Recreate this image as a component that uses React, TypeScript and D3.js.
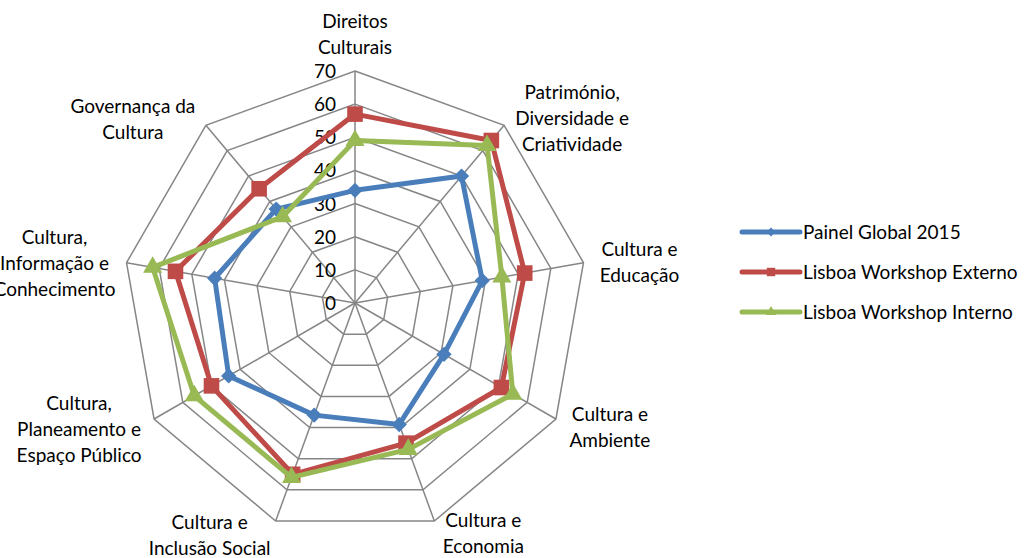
import { useEffect, useRef } from 'react';
import * as d3 from 'd3';

const categories = [
    'Direitos Culturais',
    'Património, Diversidade e Criatividade',
    'Cultura e Educação',
    'Cultura e Ambiente',
    'Cultura e Economia',
    'Cultura e Inclusão Social',
    'Cultura, Planeamento e Espaço Público',
    'Cultura, Informação e Conhecimento',
    'Governança da Cultura',
];
// label lines as drawn in the chart
const labelLines = [
    ['Direitos', 'Culturais'],
    ['Património,', 'Diversidade e', 'Criatividade'],
    ['Cultura e', 'Educação'],
    ['Cultura e', 'Ambiente'],
    ['Cultura e', 'Economia'],
    ['Cultura e', 'Inclusão Social'],
    ['Cultura,', 'Planeamento e', 'Espaço Público'],
    ['Cultura,', 'Informação e', 'Conhecimento'],
    ['Governança da', 'Cultura'],
];
const seriesNames = ['Painel Global 2015', 'Lisboa Workshop Externo', 'Lisboa Workshop Interno'];
const painelGlobal = [34, 50, 39, 31, 39, 36, 44, 43, 37];
const workshopExterno = [57, 64, 52, 51, 45, 55, 50, 55, 45];
const workshopInterno = [49, 62, 45, 55, 47, 56, 56, 62, 34];
const ticks = [0, 10, 20, 30, 40, 50, 60, 70];

const colors = ['#4a7ebb', '#be4b48', '#98b954'];
const markers = ['diamond', 'square', 'triangle'];
// label block offsets from the outer vertex (layout only)
const labelOffsets = [
    [0, -37], [68, -7], [56, -1], [54, 8], [49, 12], [-66, 14], [-75, 10], [-72, 0], [-73, -6],
];

const App = () => {
    const svgRef = useRef(null);
    const width = 1026;
    const height = 558;
    const cx = 355;
    const cy = 303;
    const font = 'Lato, "Open Sans", sans-serif';
    const fs = 19;

    useEffect(() => {
        const svg = d3.select(svgRef.current);
        svg.selectAll('*').remove();

        const r = d3.scaleLinear().domain([0, 70]).range([0, 232]);
        const angle = d3.scaleLinear().domain([0, categories.length]).range([0, 2 * Math.PI]);
        const pt = (i, v) => [cx + r(v) * Math.sin(angle(i)), cy - r(v) * Math.cos(angle(i))];

        const g = svg.append('g');

        // grid rings
        ticks.slice(1).forEach(t => {
            g.append('polygon')
                .attr('points', categories.map((c, i) => pt(i, t).join(',')).join(' '))
                .attr('fill', 'none')
                .attr('stroke', '#868686')
                .attr('stroke-width', 1.5);
        });
        // spokes
        categories.forEach((c, i) => {
            const [x, y] = pt(i, 70);
            g.append('line')
                .attr('x1', cx).attr('y1', cy).attr('x2', x).attr('y2', y)
                .attr('stroke', '#868686')
                .attr('stroke-width', 1.5);
        });

        // tick labels
        g.selectAll('.tick')
            .data(ticks)
            .join('text')
            .attr('x', cx - 19)
            .attr('y', d => cy - r(d) + 7)
            .attr('text-anchor', 'end')
            .attr('font-family', font)
            .attr('font-size', fs)
            .attr('fill', '#000')
            .text(d => d);

        // category labels
        labelLines.forEach((lines, i) => {
            const [vx, vy] = pt(i, 70);
            const [ox, oy] = labelOffsets[i];
            const lh = 26;
            const top = vy + oy - (lines.length - 1) * lh / 2;
            const t = g.append('text')
                .attr('text-anchor', 'middle')
                .attr('font-family', font)
                .attr('font-size', fs)
                .attr('fill', '#000');
            lines.forEach((l, j) => {
                t.append('tspan')
                    .attr('x', vx + ox)
                    .attr('y', top + j * lh + 7)
                    .text(l);
            });
        });

        const radial = d3.lineRadial()
            .angle((d, i) => angle(i))
            .radius(d => r(d))
            .curve(d3.curveLinearClosed);

        const symbolFor = m => m === 'diamond'
            ? d3.symbol().type(d3.symbolDiamond2).size(150)
            : m === 'square'
                ? d3.symbol().type(d3.symbolSquare2).size(310)
                : d3.symbol().type(d3.symbolTriangle2).size(260);

        const allSeries = [painelGlobal, workshopExterno, workshopInterno];
        allSeries.forEach((vals, s) => {
            const sg = g.append('g').attr('transform', `translate(${cx},${cy})`);
            sg.append('path')
                .attr('d', radial(vals))
                .attr('fill', 'none')
                .attr('stroke', colors[s])
                .attr('stroke-width', 5)
                .attr('stroke-linejoin', 'round');
            sg.selectAll('path.m')
                .data(vals)
                .join('path')
                .attr('class', 'm')
                .attr('d', symbolFor(markers[s])())
                .attr('transform', (d, i) => {
                    const [x, y] = pt(i, d);
                    return `translate(${x - cx},${y - cy})`;
                })
                .attr('fill', colors[s]);
        });

        // legend
        const lg = svg.append('g');
        seriesNames.forEach((name, s) => {
            const y = 232 + s * 40;
            lg.append('line')
                .attr('x1', 742).attr('x2', 800).attr('y1', y).attr('y2', y)
                .attr('stroke', colors[s])
                .attr('stroke-width', 5)
                .attr('stroke-linecap', 'round');
            const sym = markers[s] === 'diamond'
                ? d3.symbol().type(d3.symbolDiamond2).size(50)
                : markers[s] === 'square'
                    ? d3.symbol().type(d3.symbolSquare2).size(90)
                    : d3.symbol().type(d3.symbolTriangle2).size(80);
            lg.append('path')
                .attr('d', sym())
                .attr('transform', `translate(771,${y})`)
                .attr('fill', colors[s]);
            lg.append('text')
                .attr('x', 803)
                .attr('y', y + 7)
                .attr('font-family', font)
                .attr('font-size', fs)
                .attr('fill', '#000')
                .text(name);
        });
    }, []);

    return (
        <div style={{ position: 'absolute', left: 0, top: 0 }}>
            <svg ref={svgRef} width={width} height={height} style={{ display: 'block', background: '#fff' }}></svg>
        </div>
    );
};

export default App;
